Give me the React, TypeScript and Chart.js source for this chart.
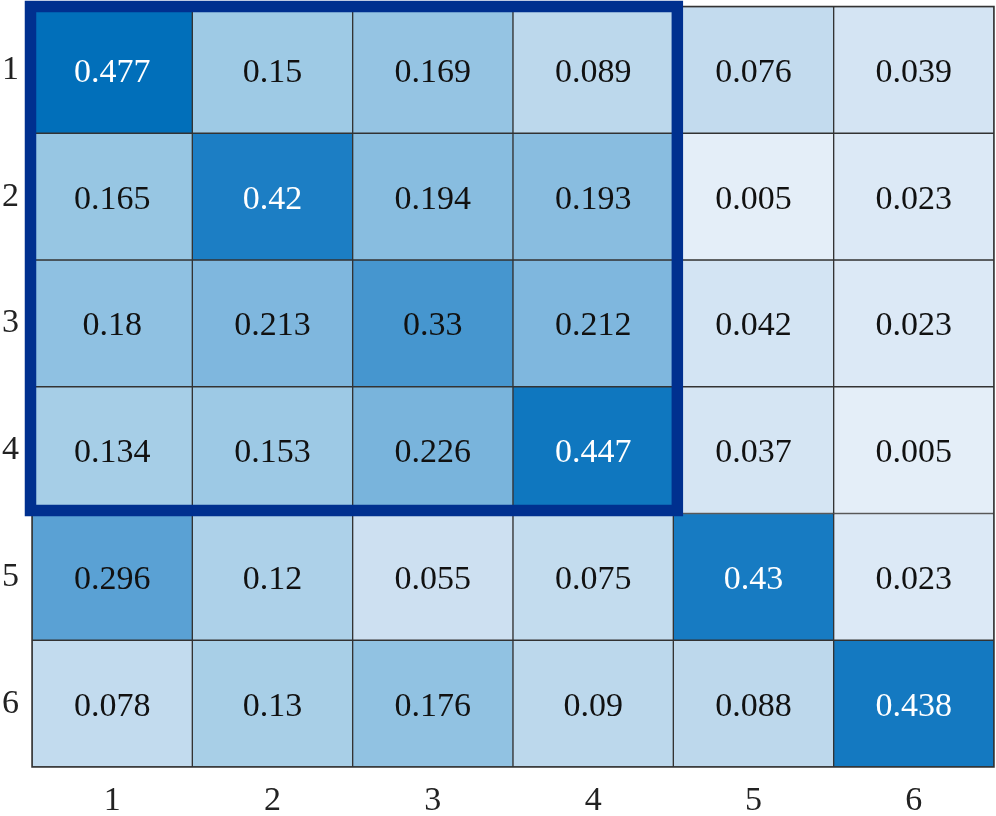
import React, { useEffect, useRef } from "react";
import { Chart, registerables } from "chart.js";

Chart.register(...registerables);

const colLabels = ["1", "2", "3", "4", "5", "6"];
const rowLabels = ["1", "2", "3", "4", "5", "6"];

const row1 = [0.477, 0.15, 0.169, 0.089, 0.076, 0.039];
const row2 = [0.165, 0.42, 0.194, 0.193, 0.005, 0.023];
const row3 = [0.18, 0.213, 0.33, 0.212, 0.042, 0.023];
const row4 = [0.134, 0.153, 0.226, 0.447, 0.037, 0.005];
const row5 = [0.296, 0.12, 0.055, 0.075, 0.43, 0.023];
const row6 = [0.078, 0.13, 0.176, 0.09, 0.088, 0.438];

const rows = [row1, row2, row3, row4, row5, row6];

// highlighted block: rows 1-4, columns 1-4
const frameCols = [1, 4];
const frameRows = [1, 4];

const cmapStops: [number, number[]][] = [
  [0.0, [230, 239, 249]],
  [0.04, [212, 228, 243]],
  [0.09, [188, 216, 236]],
  [0.15, [158, 202, 229]],
  [0.21, [128, 184, 222]],
  [0.3, [88, 160, 212]],
  [0.33, [70, 150, 207]],
  [0.42, [28, 126, 196]],
  [0.48, [0, 110, 185]],
];

function colorFor(v: number): string {
  for (let i = 0; i < cmapStops.length - 1; i++) {
    const [a, ca] = cmapStops[i];
    const [b, cb] = cmapStops[i + 1];
    if (v <= b || i === cmapStops.length - 2) {
      const t = Math.max(0, Math.min(1, (v - a) / (b - a)));
      const c = ca.map((x, k) => Math.round(x + (cb[k] - x) * t));
      return `rgb(${c[0]},${c[1]},${c[2]})`;
    }
  }
  return "rgb(0,110,185)";
}

const FONT = "'Liberation Serif', 'Times New Roman', serif";

const heatPlugin = {
  id: "heatExtras",
  afterDatasetsDraw(chart: any) {
    const ctx = chart.ctx;
    const area = chart.chartArea;
    ctx.save();
    // outer border
    ctx.strokeStyle = "#333";
    ctx.lineWidth = 1.5;
    ctx.strokeRect(area.left, area.top, area.right - area.left, area.bottom - area.top);
    // values
    ctx.font = `34px ${FONT}`;
    ctx.textAlign = "center";
    ctx.textBaseline = "middle";
    rows.forEach((row, i) => {
      const meta = chart.getDatasetMeta(i);
      row.forEach((v, j) => {
        const el = meta.data[j];
        const cy = (el.y + el.base) / 2;
        ctx.fillStyle = v >= 0.4 ? "#ffffff" : "#111111";
        ctx.fillText(String(v), el.x, cy + 3);
      });
    });
    // frame
    const first = chart.getDatasetMeta(frameRows[0] - 1).data[frameCols[0] - 1];
    const last = chart.getDatasetMeta(frameRows[1] - 1).data[frameCols[1] - 1];
    const x0 = first.x - first.width / 2 - 1.5;
    const x1 = last.x + last.width / 2 + 4;
    const y0 = Math.min(first.y, first.base);
    const y1 = Math.max(last.y, last.base) - 3;
    ctx.strokeStyle = "#00308F";
    ctx.lineWidth = 11.5;
    ctx.strokeRect(x0, y0, x1 - x0, y1 - y0);
    ctx.restore();
  },
};

export default function App() {
  const ref = useRef<HTMLCanvasElement | null>(null);

  useEffect(() => {
    document.body.style.margin = "0";
    const canvas = ref.current;
    if (!canvas) return;
    const datasets = rows.map((row, i) => ({
      label: rowLabels[i],
      data: row.map(() => 1),
      backgroundColor: row.map((v) => colorFor(v)),
      borderColor: "#333333",
      borderWidth: 1,
      borderSkipped: false as const,
      barPercentage: 1,
      categoryPercentage: 1,
    }));
    const chart = new Chart(canvas, {
      type: "bar",
      data: { labels: colLabels, datasets },
      options: {
        responsive: false,
        animation: false,
        maintainAspectRatio: false,
        layout: { padding: { top: 6.5, right: 2, left: 0, bottom: 0 } },
        plugins: {
          legend: { display: false },
          tooltip: { enabled: false },
        },
        scales: {
          x: {
            stacked: true,
            grid: { display: false, drawTicks: false },
            border: { display: false },
            ticks: {
              color: "#222",
              font: { family: FONT, size: 34 },
              padding: 14,
              maxRotation: 0,
            },
            afterFit(scale: any) {
              scale.height = 49;
              scale.paddingLeft = 0;
              scale.paddingRight = 0;
            },
          },
          y: {
            stacked: true,
            reverse: true,
            min: 0,
            max: 6,
            grid: { display: false, drawTicks: false },
            border: { display: false },
            afterBuildTicks(scale: any) {
              scale.ticks = rowLabels.map((_, i) => ({ value: i + 0.5 }));
            },
            ticks: {
              color: "#222",
              font: { family: FONT, size: 34 },
              padding: 13,
              callback: (v: any) => rowLabels[Math.floor(Number(v))],
            },
            afterFit(scale: any) {
              scale.width = 32;
              scale.paddingTop = 0;
              scale.paddingBottom = 0;
            },
          },
        },
      },
      plugins: [heatPlugin],
    });
    return () => chart.destroy();
  }, []);

  return (
    <div style={{ position: "fixed", left: 0, top: 0, width: 996, height: 816, background: "#fff" }}>
      <canvas ref={ref} width={996} height={816} style={{ display: "block" }} />
    </div>
  );
}
